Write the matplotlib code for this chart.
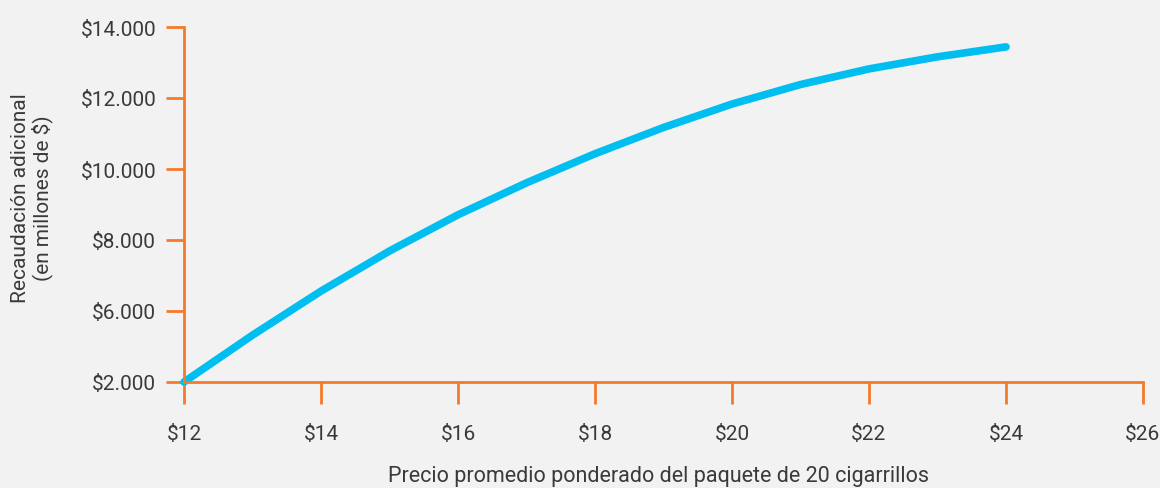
import matplotlib
matplotlib.use("Agg")
import matplotlib.pyplot as plt

# Data (y in axis units; bottom tick is labelled "$2.000" in the original)
precio = [12, 13, 14, 15, 16, 17, 18, 19, 20, 21, 22, 23, 24]
recaudacion = [4000, 5320, 6560, 7690, 8710, 9610, 10430, 11170, 11830, 12380, 12820, 13160, 13440]
x_ticks = [12, 14, 16, 18, 20, 22, 24, 26]
x_labels = ["$12", "$14", "$16", "$18", "$20", "$22", "$24", "$26"]
y_ticks = [4000, 6000, 8000, 10000, 12000, 14000]
y_labels = ["$2.000", "$6.000", "$8.000", "$10.000", "$12.000", "$14.000"]

W, H = 1160, 489
bg = "#f2f2f2"
orange = "#f47b2c"
blue = "#00bff0"
txt = "#3a3a3a"
fam = ["Roboto", "DejaVu Sans"]

fig = plt.figure(figsize=(W/100, H/100), dpi=100, facecolor=bg)
ax = fig.add_axes([184/W, (H-383)/H, (1143-184)/W, (383-28)/H])
ax.set_facecolor(bg)

ax.plot(precio, recaudacion, color=blue, lw=5.5, solid_capstyle="round",
        solid_joinstyle="round", clip_on=False)

ax.set_xlim(12, 26)
ax.set_ylim(4000, 14000)
ax.set_xticks(x_ticks)
ax.set_xticklabels(x_labels)
ax.set_yticks(y_ticks)
ax.set_yticklabels(y_labels)

for s in ["top", "right"]:
    ax.spines[s].set_visible(False)
for s in ["left", "bottom"]:
    ax.spines[s].set_color(orange)
    ax.spines[s].set_linewidth(2)

ax.tick_params(axis="x", colors=orange, length=16, width=2, direction="out", pad=14,
               labelcolor=txt, labelsize=15)
ax.tick_params(axis="y", colors=orange, length=13, width=2, direction="out", pad=7,
               labelcolor=txt, labelsize=15)
for lab in ax.get_xticklabels() + ax.get_yticklabels():
    lab.set_fontfamily(fam)

fig.text(658/W, 1 - 477/H, "Precio promedio ponderado del paquete de 20 cigarrillos",
         ha="center", va="center", fontsize=15.5, color=txt, fontfamily=fam)
fig.text(32/W, 1 - 198/H, "Recaudación adicional\n(en millones de $)",
         ha="center", va="center", rotation=90, fontsize=15, color=txt,
         fontfamily=fam, linespacing=1.05)

fig.savefig("out.png", dpi=100, facecolor=bg)
